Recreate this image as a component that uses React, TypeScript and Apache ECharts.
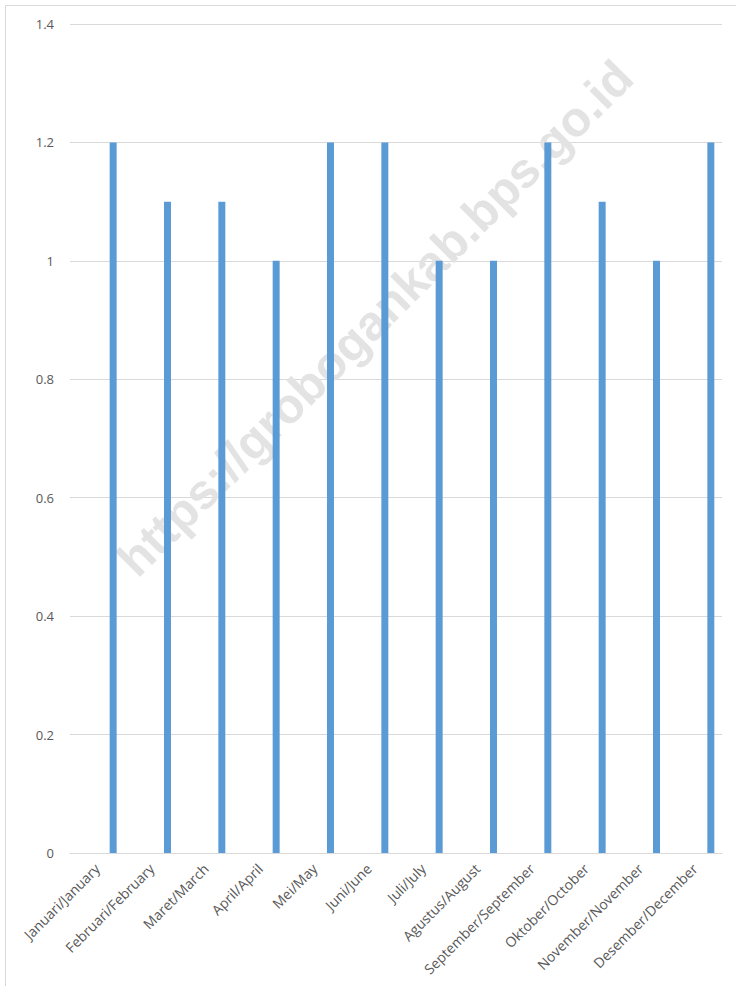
import React, { useEffect, useRef } from "react";
import * as echarts from "echarts";

const categories = [
  "Januari/January",
  "Februari/February",
  "Maret/March",
  "April/April",
  "Mei/May",
  "Juni/June",
  "Juli/July",
  "Agustus/August",
  "September/September",
  "Oktober/October",
  "November/November",
  "Desember/December",
];
const values = [1.2, 1.1, 1.1, 1.0, 1.2, 1.2, 1.0, 1.0, 1.2, 1.1, 1.0, 1.2];
const yMin = 0;
const yMax = 1.4;
const yStep = 0.2;
const watermark = "https://grobogankab.bps.go.id";

export default function App() {
  const ref = useRef<HTMLDivElement>(null);
  useEffect(() => {
    if (!ref.current) return;
    const chart = echarts.init(ref.current, null, { renderer: "svg" });
    chart.setOption({
      animation: false,
      backgroundColor: "#ffffff",
      grid: { left: 70, right: 14, top: 24, bottom: 133, containLabel: false },
      xAxis: {
        type: "category",
        data: categories,
        axisLine: { show: true, lineStyle: { color: "#d9d9d9", width: 1 } },
        axisTick: { show: false },
        axisLabel: {
          interval: 0,
          rotate: 45,
          margin: 13,
          color: "#595959",
          fontSize: 14,
          fontFamily: "Open Sans",
        },
      },
      yAxis: {
        type: "value",
        min: yMin,
        max: yMax,
        interval: yStep,
        axisLine: { show: false },
        axisTick: { show: false },
        splitLine: { lineStyle: { color: "#d9d9d9", width: 1 } },
        axisLabel: {
          margin: 16,
          color: "#595959",
          fontSize: 13,
          fontFamily: "Open Sans",
          formatter: (v: number) => String(Math.round(v * 10) / 10),
        },
      },
      series: [
        {
          type: "bar",
          name: "",
          data: [],
          barWidth: 7,
          barGap: "357%",
          z: 5,
        },
        {
          type: "bar",
          name: "Value",
          data: values,
          barWidth: 7,
          barGap: "357%",
          z: 5,
          itemStyle: { color: "#5b9bd5" },
        },
      ],
      graphic: [
        {
          type: "rect",
          shape: { x: 5.5, y: 5.5, width: 760, height: 1000 },
          style: { fill: "none", stroke: "#d9d9d9", lineWidth: 1 },
          silent: true,
          z: 0,
        },
        {
          type: "text",
          x: 375,
          y: 318,
          rotation: Math.PI / 4,
          z: 1,
          silent: true,
          style: {
            text: watermark,
            fill: "#e3e3e3",
            font: "bold 49px 'Liberation Sans', Arial, sans-serif",
            align: "center",
            verticalAlign: "middle",
          },
        },
      ],
    });
    return () => chart.dispose();
  }, []);
  return (
    <div
      ref={ref}
      style={{ position: "fixed", left: 0, top: 0, width: 736, height: 986 }}
    />
  );
}
